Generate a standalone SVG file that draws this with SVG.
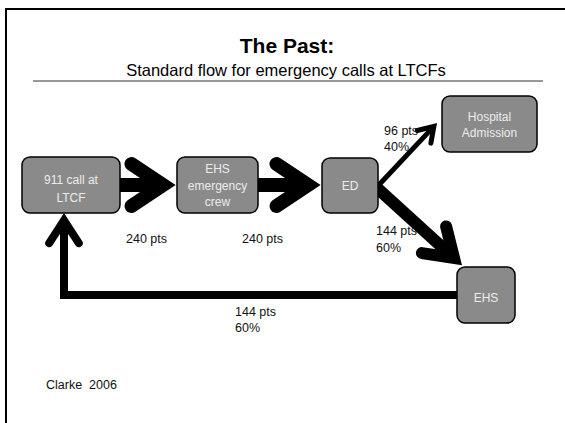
<svg xmlns="http://www.w3.org/2000/svg" width="565" height="423" viewBox="0 0 565 423">
<style>
.node rect{fill:#8a8a8a;stroke:#000;stroke-width:1.5}
.node text{font-family:"Liberation Sans",Arial,sans-serif;font-size:12px;fill:#ececec;text-anchor:middle}
.lbl{font-family:"Liberation Sans",Arial,sans-serif;font-size:12.5px;fill:#111;white-space:pre}
.conn{fill:none;stroke:#000;stroke-linejoin:miter;stroke-linecap:butt}
</style>
<defs>
<marker id="big" viewBox="-4 -3 6 6" markerWidth="6" markerHeight="6" refX="0" refY="0" orient="auto" markerUnits="strokeWidth" overflow="visible">
<path d="M -2.25,-1.5 L 0,0 L -2.25,1.5" fill="none" stroke="#000" stroke-width="1" stroke-linecap="round" stroke-linejoin="miter"/>
</marker>
<marker id="small" viewBox="-4 -3 6 6" markerWidth="6" markerHeight="6" refX="0" refY="0" orient="auto" markerUnits="strokeWidth" overflow="visible">
<path d="M -2.85,-1.85 L 0,0 L -2.85,1.85" fill="none" stroke="#000" stroke-width="1" stroke-linecap="round" stroke-linejoin="miter"/>
</marker>
</defs>
<rect width="565" height="423" fill="#fff"/>
<rect x="6" y="9" width="620" height="480" fill="none" stroke="#000" stroke-width="2"/>
<g id="title">
<text x="287" y="53" font-family="'Liberation Sans',Arial,sans-serif" font-size="21" font-weight="bold" text-anchor="middle" fill="#000">The Past:</text>
<text x="286" y="76" font-family="'Liberation Sans',Arial,sans-serif" font-size="16.5" text-anchor="middle" fill="#000">Standard flow for emergency calls at LTCFs</text>
<line x1="33" y1="81" x2="543" y2="81" stroke="#333" stroke-width="1"/>
</g>
<g id="connectors">
<line class="conn" x1="118" y1="185" x2="163" y2="185" stroke-width="14" marker-end="url(#big)"/>
<line class="conn" x1="256" y1="185" x2="308" y2="185" stroke-width="14" marker-end="url(#big)"/>
<line class="conn" x1="376" y1="188" x2="433.9" y2="126.4" stroke-width="5" marker-end="url(#small)"/>
<line class="conn" x1="376" y1="187" x2="454" y2="257.9" stroke-width="12" marker-end="url(#big)"/>
<path class="conn" d="M 462,295 L 64,295 L 64,220.3" stroke-width="8" marker-end="url(#small)"/>
</g>
<g id="node-911" class="node">
<rect x="22" y="157" width="98" height="56" rx="8"/>
<text x="71" y="184">911 call at</text>
<text x="71" y="202">LTCF</text>
</g>
<g id="node-crew" class="node">
<rect x="177" y="157" width="81" height="56" rx="8"/>
<text x="217.5" y="173">EHS</text>
<text x="217.5" y="190">emergency</text>
<text x="217.5" y="206">crew</text>
</g>
<g id="node-ed" class="node">
<rect x="322" y="158" width="56" height="55" rx="8"/>
<text x="350" y="190">ED</text>
</g>
<g id="node-hospital" class="node">
<rect x="442" y="96" width="95" height="56" rx="8"/>
<text x="489.5" y="121">Hospital</text>
<text x="489.5" y="137">Admission</text>
</g>
<g id="node-ehs" class="node">
<rect x="457" y="267" width="58" height="56" rx="8"/>
<text x="486" y="302">EHS</text>
</g>
<g id="labels">
<text class="lbl" x="126" y="243">240 pts</text>
<text class="lbl" x="242" y="243">240 pts</text>
<text class="lbl" x="384" y="135">96 pts</text>
<text class="lbl" x="384" y="151">40%</text>
<text class="lbl" x="376" y="235">144 pts</text>
<text class="lbl" x="376" y="252">60%</text>
<text class="lbl" x="235" y="316">144 pts</text>
<text class="lbl" x="235" y="332">60%</text>
<text class="lbl" x="46" y="389" xml:space="preserve">Clarke  2006</text>
</g>
</svg>
